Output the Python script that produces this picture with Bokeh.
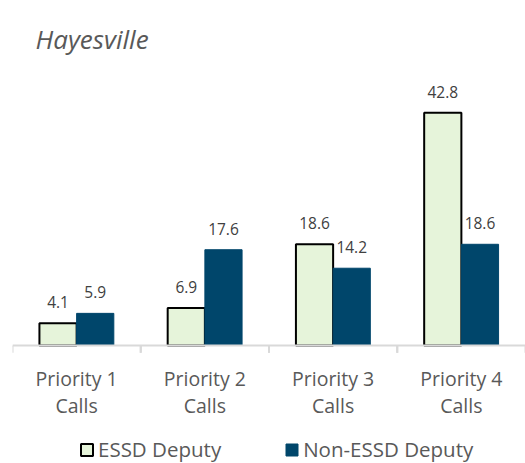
from bokeh.plotting import figure
from bokeh.models import FactorRange, Range1d, ColumnDataSource, Legend, LegendItem, Span
from bokeh.transform import dodge
from bokeh.core.properties import value
from bokeh.embed import file_html
from bokeh.resources import INLINE

categories = ["Priority 1 Calls", "Priority 2 Calls", "Priority 3 Calls", "Priority 4 Calls"]
tick_line1 = ["Priority 1", "Priority 2", "Priority 3", "Priority 4"]
tick_line2 = ["Calls", "Calls", "Calls", "Calls"]
essd = [4.1, 6.9, 18.6, 42.8]
non_essd = [5.9, 17.6, 14.2, 18.6]
series_names = ["ESSD Deputy", "Non-ESSD Deputy"]

FONT = "Open Sans"
GREY = "#595959"
AXIS = "#D9D9D9"

src = ColumnDataSource(dict(
    cat=categories, essd=essd, non=non_essd,
    essd_lbl=[f"{v:.1f}" for v in essd], non_lbl=[f"{v:.1f}" for v in non_essd],
    l1=tick_line1, l2=tick_line2,
    zero=[0] * len(categories), tick_lo=[-1.35] * len(categories),
))

p = figure(width=525, height=463, x_range=FactorRange(*categories), y_range=Range1d(-21.7, 50),
           output_backend="svg", toolbar_location=None,
           min_border_left=12, min_border_right=0, min_border_top=73, min_border_bottom=0)
p.outline_line_color = None
p.grid.grid_line_color = None
p.axis.visible = False
p.background_fill_color = "white"

p.title.text = "Hayesville"
p.title.text_font = FONT
p.title.text_font_style = "italic"
p.title.text_font_size = "26px"
p.title.text_color = GREY
p.title.offset = 23
p.title.standoff = 34

b1 = p.vbar(x=dodge("cat", -0.145, range=p.x_range), top="essd", width=0.29, source=src,
            fill_color="#E6F4DA", line_color="#000000", line_width=2)
b2 = p.vbar(x=dodge("cat", 0.145, range=p.x_range), top="non", width=0.29, source=src,
            fill_color="#00466B", line_color="#00466B", line_width=1)

p.add_layout(Span(location=0, dimension="width", line_color=AXIS, line_width=2))
# category boundary ticks
p.segment(x0=dodge("cat", -0.5, range=p.x_range), x1=dodge("cat", -0.5, range=p.x_range),
          y0="zero", y1="tick_lo", source=src, line_color=AXIS, line_width=2)
p.segment(x0=dodge("cat", 0.5, range=p.x_range), x1=dodge("cat", 0.5, range=p.x_range),
          y0="zero", y1="tick_lo", source=src, line_color=AXIS, line_width=2)

# value labels
p.text(x=dodge("cat", -0.145, range=p.x_range), y="essd", text="essd_lbl", source=src,
       text_align="center", text_baseline="middle", y_offset=-21,
       text_font=value(FONT), text_font_size="15.5px", text_color="#404040")
p.text(x=dodge("cat", 0.145, range=p.x_range), y="non", text="non_lbl", source=src,
       text_align="center", text_baseline="middle", y_offset=-21,
       text_font=value(FONT), text_font_size="15.5px", text_color="#404040")

# category labels
p.text(x="cat", y="zero", text="l1", source=src, text_align="center", text_baseline="middle",
       y_offset=33, text_font=value(FONT), text_font_size="19.5px", text_color=GREY)
p.text(x="cat", y="zero", text="l2", source=src, text_align="center", text_baseline="middle",
       y_offset=60, text_font=value(FONT), text_font_size="19.5px", text_color=GREY)

legend = Legend(items=[LegendItem(label=series_names[0], renderers=[b1]),
                       LegendItem(label=series_names[1], renderers=[b2])],
                orientation="horizontal", location=(67, 0),
                label_text_font=FONT, label_text_font_size="20.5px", label_text_color=GREY,
                glyph_width=15, glyph_height=15, spacing=63, label_standoff=4,
                border_line_color=None, background_fill_alpha=0, margin=0, padding=0)
p.add_layout(legend)

open("out.html", "w").write(file_html(p, INLINE))
